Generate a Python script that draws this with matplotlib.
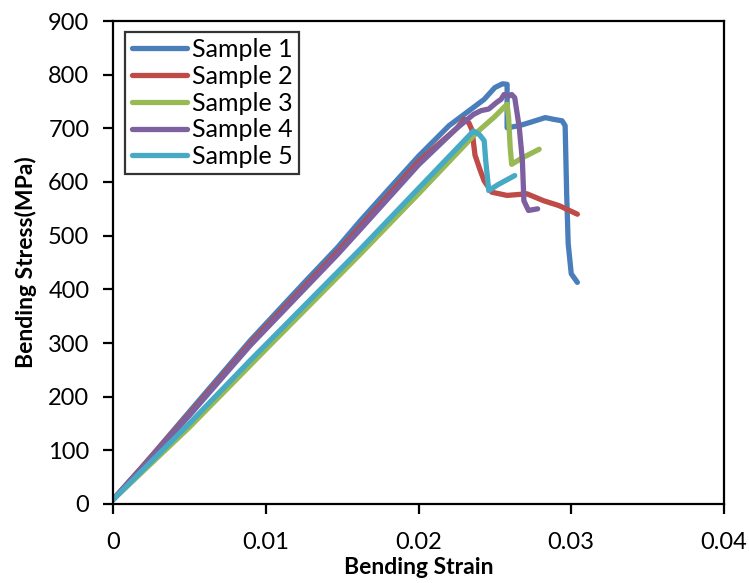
import numpy as np
import matplotlib.pyplot as plt

plt.rcParams["font.family"] = ["Lato", "DejaVu Sans"]

# Sample 1
s1_strain = [0.0, 0.002, 0.005, 0.009, 0.0125, 0.0147, 0.0162, 0.018, 0.020, 0.022,
             0.0236, 0.0243, 0.0250, 0.0255, 0.0258, 0.0258, 0.0266, 0.0273, 0.0283,
             0.0288, 0.0294, 0.0296, 0.0297, 0.0298, 0.0300, 0.0304]
s1_stress = [8, 72, 172, 305, 412, 478, 528, 585, 648, 705,
             739, 754, 776, 783, 782, 701, 705, 711, 720,
             717, 714, 705, 578, 485, 429, 413]

# Sample 2
s2_strain = [0.0, 0.005, 0.009, 0.0147, 0.020, 0.0225, 0.0230, 0.0233, 0.0235, 0.0237,
             0.0240, 0.0243, 0.0248, 0.0258, 0.0271, 0.0282, 0.0292, 0.0304]
s2_stress = [8, 168, 300, 470, 638, 700, 717, 710, 697, 650,
             625, 602, 581, 575, 578, 565, 556, 540]

# Sample 3
s3_strain = [0.0, 0.005, 0.010, 0.0162, 0.020, 0.0238, 0.0250, 0.0258, 0.0259, 0.0260,
             0.0261, 0.0268, 0.0279]
s3_stress = [8, 143, 288, 466, 578, 692, 722, 745, 720, 665,
             633, 645, 661]

# Sample 4
s4_strain = [0.0, 0.005, 0.009, 0.0147, 0.0162, 0.020, 0.0225, 0.0236, 0.0241, 0.0246,
             0.0251, 0.0254, 0.0256, 0.0259, 0.0261, 0.0263, 0.0266, 0.0268, 0.0269,
             0.0272, 0.0278]
s4_stress = [8, 165, 296, 465, 512, 632, 700, 726, 733, 736,
             748, 754, 763, 760, 763, 757, 701, 640, 565,
             547, 550]

# Sample 5
s5_strain = [0.0, 0.005, 0.009, 0.0162, 0.020, 0.0236, 0.0240, 0.0243, 0.0244, 0.0246,
             0.0252, 0.0263]
s5_stress = [8, 150, 268, 475, 588, 695, 688, 677, 640, 584,
             595, 612]

labels = ["Sample 1", "Sample 2", "Sample 3", "Sample 4", "Sample 5"]
colors = ["#4A7EBB", "#BE4B48", "#98B954", "#7D60A0", "#46AAC5"]
series = [(s1_strain, s1_stress), (s2_strain, s2_stress), (s3_strain, s3_stress),
          (s4_strain, s4_stress), (s5_strain, s5_stress)]

fig = plt.figure(figsize=(7.49, 5.83), dpi=100)
ax = fig.add_axes([113 / 749, 1 - 504 / 583, (724 - 113) / 749, (504 - 21) / 583])

for (x, y), label, color in zip(series, labels, colors):
    ax.plot(x, y, color=color, lw=3.8, label=label,
            solid_capstyle="round", solid_joinstyle="round")

ax.set_xlim(0, 0.04)
ax.set_ylim(0, 900)
ax.set_xticks([0, 0.01, 0.02, 0.03, 0.04])
ax.set_xticklabels(["0", "0.01", "0.02", "0.03", "0.04"])
ax.set_yticks(np.arange(0, 901, 100))

for spine in ax.spines.values():
    spine.set_linewidth(1.6)
ax.tick_params(direction="out", length=7, width=1.6, labelsize=17)
ax.tick_params(axis="x", pad=13)
ax.tick_params(axis="y", pad=10)

ax.set_xlabel("Bending Strain", fontsize=16.5, fontweight="bold", labelpad=3)
ax.set_ylabel("Bending Stress(MPa)", fontsize=16.5, fontweight="bold", labelpad=8)

leg = ax.legend(loc="upper left", bbox_to_anchor=(0.012, 0.988), fontsize=18,
                frameon=True, fancybox=False, edgecolor="black",
                handlelength=2.2, handletextpad=0.2, labelspacing=0.15,
                borderpad=0.25, borderaxespad=0.2)
leg.get_frame().set_linewidth(1.6)

fig.savefig("out.png", dpi=100)
